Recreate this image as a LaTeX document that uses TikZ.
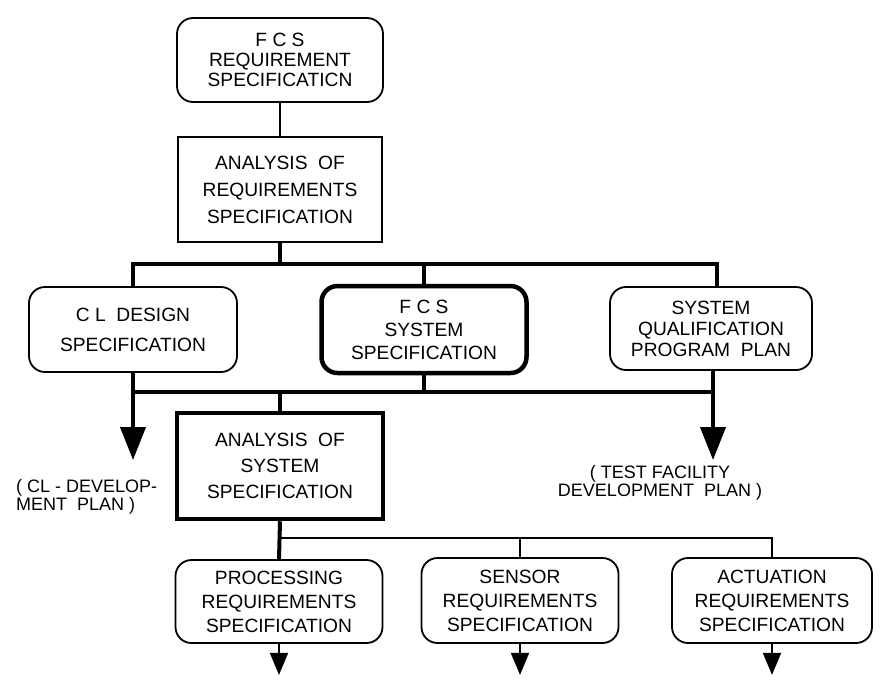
\documentclass[tikz,border=0pt]{standalone}
\usepackage{fontspec}
\setmainfont{Liberation Sans}
\usetikzlibrary{arrows.meta}
\begin{document}
\begin{tikzpicture}[x=1pt,y=-1pt,
  lsp/.style={font=\fontsize{19.2}{#1}\selectfont},
  rbox/.style={draw, line width=1.8pt, rounded corners=16pt, align=center, inner sep=0pt},
  rboxbold/.style={rbox, line width=4.5pt},
  sbox/.style={draw, line width=1.8pt, align=center, inner sep=0pt},
  sboxbold/.style={sbox, line width=4.5pt},
  note/.style={inner sep=0pt, font=\fontsize{18}{18.5}\selectfont},
  heavy/.style={line width=4pt},
  light/.style={line width=1.8pt},
  bigtip/.style={-{Triangle[width=25pt,length=33pt]}},
  smalltip/.style={-{Triangle[width=18pt,length=22pt]}}
]
\useasboundingbox (0,0) rectangle (880,681);

% boxes
\node[rbox, lsp=20, minimum width=206pt, minimum height=84pt] (fcsreq) at (280,60)
  {F C S\\REQUIREMENT\\SPECIFICATICN};
\node[sbox, lsp=27, minimum width=204pt, minimum height=105pt] (anreq) at (280,189.5)
  {ANALYSIS\ \ OF\\REQUIREMENTS\\SPECIFICATION};
\node[rbox, lsp=30, minimum width=208pt, minimum height=85pt] (cl) at (133,329.5)
  {C L\ \ DESIGN\\SPECIFICATION};
\node[rboxbold, lsp=23, minimum width=205pt, minimum height=87pt] (fcssys) at (424,329.5)
  {F C S\\SYSTEM\\SPECIFICATION};
\node[rbox, lsp=21, minimum width=202pt, minimum height=83pt] (sq) at (711,328.5)
  {SYSTEM\\QUALIFICATION\\PROGRAM\ \ PLAN};
\node[sboxbold, lsp=26, minimum width=206pt, minimum height=106pt] (ansys) at (280,466)
  {ANALYSIS\ \ OF\\SYSTEM\\SPECIFICATION};
\node[rbox, lsp=24, minimum width=207pt, minimum height=83pt] (proc) at (279,601.5)
  {PROCESSING\\REQUIREMENTS\\SPECIFICATION};
\node[rbox, lsp=24, minimum width=197pt, minimum height=85pt] (sens) at (520,600.5)
  {SENSOR\\REQUIREMENTS\\SPECIFICATION};
\node[rbox, lsp=24, minimum width=200pt, minimum height=85pt] (act) at (772,600.5)
  {ACTUATION\\REQUIREMENTS\\SPECIFICATION};

% plan labels
\node[note, anchor=north west, align=left] (cldev) at (16,479)
  {( CL - DEVELOP-\\MENT\ \ PLAN )};
\node[note, align=center] (tfdev) at (660,483)
  {( TEST FACILITY\\DEVELOPMENT\ \ PLAN )};

% bus lines
\coordinate (topbus) at (0,264);
\coordinate (midbus) at (0,392);
\coordinate (lowbus) at (0,538);
\coordinate (clarrow) at (133,460);
\coordinate (sqarrow) at (713,460);

\draw[light] (fcsreq.south) -- (anreq.north);
\draw[heavy] (anreq.south) -- (anreq.south |- topbus);
\draw[heavy, line join=miter] (cl.north) -- (cl.north |- topbus) -- (topbus -| 717,0) -- (sq.north -| 717,0);
\draw[heavy] (fcssys.north) -- (fcssys.north |- topbus);

\draw[heavy] (cl.north |- midbus) -- (midbus -| sqarrow);
\draw[heavy, bigtip] (cl.south) -- (clarrow);
\draw[heavy, bigtip] (sq.south -| sqarrow) -- (sqarrow);
\draw[heavy] (fcssys.south) -- (fcssys.south |- midbus);
\draw[heavy] (ansys.north |- midbus) -- (ansys.north);

\draw[heavy] (ansys.south) -- (proc.north);
\draw[light, line join=miter] (proc.north |- lowbus) -- (lowbus -| act.north) -- (act.north);
\draw[light] (sens.north |- lowbus) -- (sens.north);

\draw[light, smalltip] (proc.south) -- ++(0,31);
\draw[light, smalltip] (sens.south) -- ++(0,31);
\draw[light, smalltip] (act.south) -- ++(0,31);
\end{tikzpicture}
\end{document}
